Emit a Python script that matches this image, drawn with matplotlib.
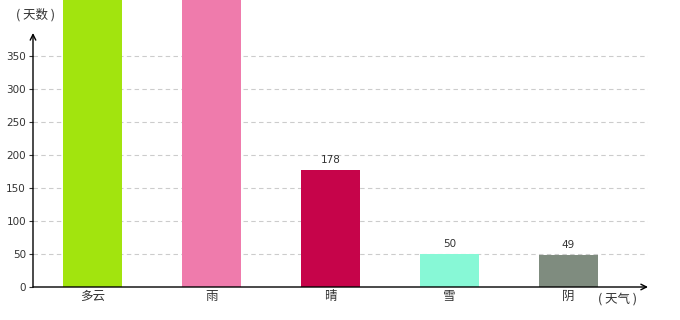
import matplotlib
matplotlib.use('Agg')
from matplotlib import pyplot as plt
import numpy as np

plt.rcParams['font.family'] = ['Noto Sans CJK SC', 'DejaVu Sans']

categories = ['多云', '雨', '晴', '雪', '阴']
days = [520, 500, 178, 50, 49]   # first two run off the top of the chart
shown_labels = [None, None, '178', '50', '49']
bar_colors = ['#a2e40e', '#ef7bac', '#c6044a', '#87f8d6', '#7f8c7f']
y_ticks = [0, 50, 100, 150, 200, 250, 300, 350]

W, H = 680, 320
fig = plt.figure(figsize=(W / 100, H / 100), dpi=100, facecolor='w')

# pixel geometry of the plot area
x0, x1 = 33, 648
y0 = 287
px_per_unit = 0.66
ax = fig.add_axes([x0 / W, (H - y0) / H, (x1 - x0) / W, y0 / H])
ax.set_xlim(-0.5, 4.67)
ax.set_ylim(0, y0 / px_per_unit)
ax.patch.set_alpha(0)

x = np.arange(len(categories))
bars = ax.bar(x, days, width=0.5, color=bar_colors, zorder=2)

for xi, v, lab in zip(x, days, shown_labels):
    if lab:
        ax.text(xi, v + 7, lab, ha='center', va='bottom', fontsize=7.5,
                color='#333333', family='DejaVu Sans')

# dashed grid lines
for t in y_ticks[1:]:
    ax.axhline(t, color='#cccccc', lw=0.8, ls=(0, (4, 3)), zorder=1)

for s in ax.spines.values():
    s.set_visible(False)

ax.set_yticks(y_ticks)
ax.set_yticklabels([str(t) for t in y_ticks], fontsize=7.5, color='#333333',
                   family='DejaVu Sans')
ax.tick_params(axis='y', length=3, width=0.8, color='#333333', pad=2)
ax.set_xticks(x)
ax.set_xticklabels(categories, fontsize=9, color='#333333')
ax.tick_params(axis='x', length=0, pad=2)

# axis arrows
y_top = (y0 - 33) / px_per_unit
ax.annotate('', xy=(-0.5, y_top), xytext=(-0.5, 0),
            arrowprops=dict(arrowstyle='->', lw=1.0, color='black',
                            shrinkA=0, shrinkB=0), annotation_clip=False)
ax.annotate('', xy=(4.67, 0), xytext=(-0.5, 0),
            arrowprops=dict(arrowstyle='->', lw=1.0, color='black',
                            shrinkA=0, shrinkB=0), annotation_clip=False)

fig.text(16 / W, 1 - 15 / H, '( 天数 )', fontsize=9, color='#333333',
         va='center', ha='left')
fig.text(598 / W, 1 - 299 / H, '( 天气 )', fontsize=9, color='#333333',
         va='center', ha='left')

fig.savefig('out.png', dpi=100, facecolor='w')
